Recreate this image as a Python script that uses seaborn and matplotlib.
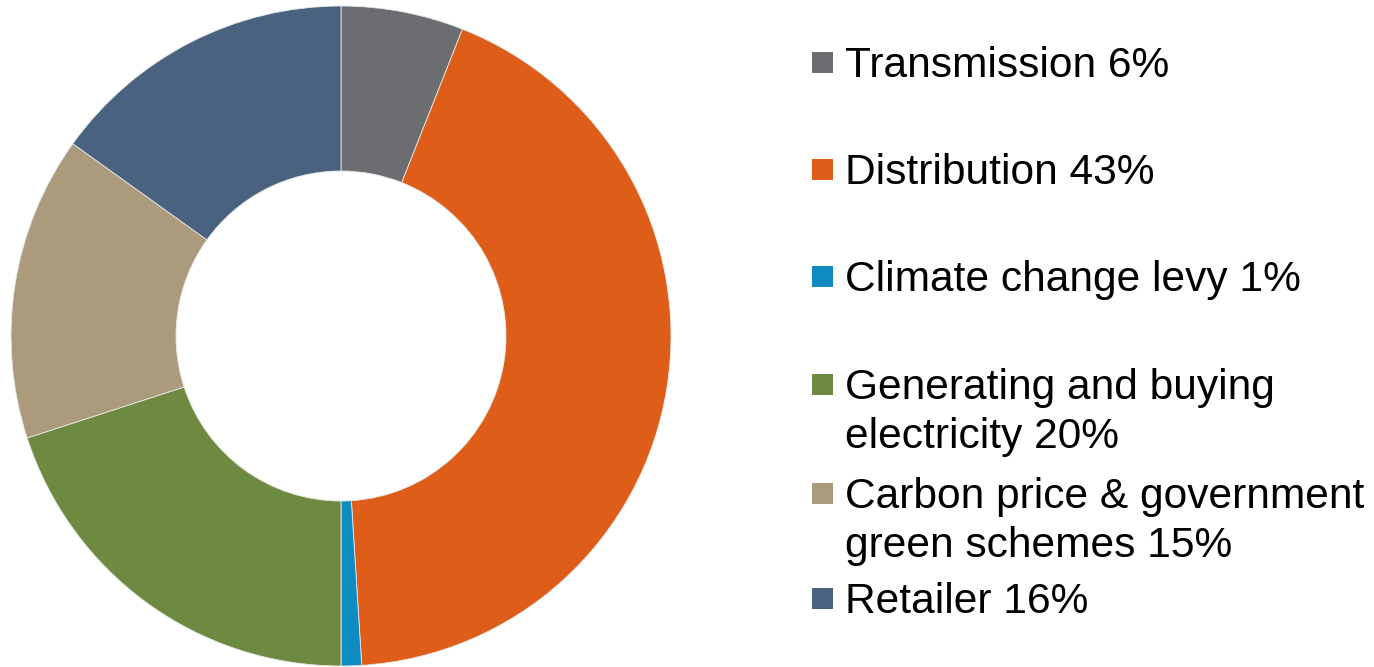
import matplotlib
matplotlib.use("Agg")
import matplotlib.pyplot as plt
from matplotlib.patches import Rectangle
import seaborn as sns

categories = ["Transmission", "Distribution", "Climate change levy",
              "Generating and buying electricity",
              "Carbon price & government green schemes", "Retailer"]
# slice sizes (labels are rounded in the legend)
values = [6.0, 43.0, 1.0, 20.0, 14.9, 15.1]
legend_labels = ["Transmission 6%", "Distribution 43%", "Climate change levy 1%",
                 "Generating and buying\nelectricity 20%",
                 "Carbon price & government\ngreen schemes 15%", "Retailer 16%"]
colors = ["#6C6D71", "#DE5D18", "#0E8BC1", "#6E8A40", "#AC9A7C", "#48627F"]

sns.set_theme(style="white")
plt.rcParams["font.family"] = ["Liberation Sans", "DejaVu Sans"]
palette = sns.color_palette(colors)

W, H = 1374, 667
fig = plt.figure(figsize=(W / 100, H / 100), dpi=100)
fig.patch.set_facecolor("white")

cx, cy, R = 341, 336, 330
ax = fig.add_axes([(cx - R) / W, (H - cy - R) / H, 2 * R / W, 2 * R / H])
ax.pie(values, colors=palette, startangle=90, counterclock=False, radius=1.0,
       wedgeprops=dict(width=0.5, edgecolor="#e8e8e8", linewidth=0.6))
ax.set_xlim(-1, 1)
ax.set_ylim(-1, 1)
ax.set_aspect("auto")
ax.axis("off")

# legend layout (pixel positions of first-line baselines)
baselines = [77, 184, 291, 399, 508, 613]
line_gap = 49
text_x = 845
sq_x, sq_size = 812, 21
fs = 30.6
for lab, col, base in zip(legend_labels, colors, baselines):
    lines = lab.split("\n")
    for i, ln in enumerate(lines):
        fig.text(text_x / W, 1 - (base + i * line_gap) / H, ln, fontsize=fs,
                 color="black", ha="left", va="baseline")
    cap_center = base - 15
    fig.patches.append(Rectangle((sq_x / W, 1 - (cap_center + sq_size / 2) / H),
                                 sq_size / W, sq_size / H, transform=fig.transFigure,
                                 facecolor=col, edgecolor="none"))

fig.savefig("out.png", dpi=100, facecolor="white")
